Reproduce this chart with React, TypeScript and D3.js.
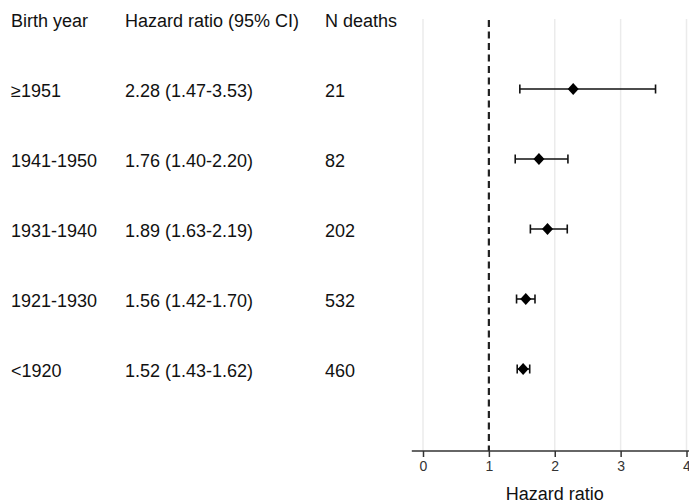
import React, { useEffect, useRef } from "react";
import * as d3 from "d3";

const birthYears = ["≥1951", "1941-1950", "1931-1940", "1921-1930", "<1920"];
const hazardRatios = [2.28, 1.76, 1.89, 1.56, 1.52];
const ciLower = [1.47, 1.4, 1.63, 1.42, 1.43];
const ciUpper = [3.53, 2.2, 2.19, 1.7, 1.62];
const nDeaths = [21, 82, 202, 532, 460];
const xTicks = [0, 1, 2, 3, 4];
const headers = ["Birth year", "Hazard ratio (95% CI)", "N deaths"];

const fmt = d3.format(".2f");

const ForestPlot: React.FC<{ width?: number; height?: number }> = ({
  width = 689,
  height = 504,
}) => {
  const ref = useRef<SVGSVGElement | null>(null);

  useEffect(() => {
    const svg = d3.select(ref.current);
    svg.selectAll("*").remove();
    svg.attr("width", width).attr("height", height);

    const font = "'Liberation Sans', Arial, sans-serif";
    const axisY = 451;
    const plotTop = 19;

    // Scales
    const x = d3.scaleLinear().domain([0, 4]).range([423, 686.5]);
    const y = d3.scalePoint<string>().domain(birthYears).range([89, 369]);

    const rows = birthYears.map((label, i) => ({
      label,
      hr: hazardRatios[i],
      lo: ciLower[i],
      hi: ciUpper[i],
      n: nDeaths[i],
    }));

    // Table columns
    const colX = [11, 125, 325];
    svg
      .append("g")
      .selectAll("text")
      .data(headers)
      .enter()
      .append("text")
      .attr("x", (_, i) => colX[i])
      .attr("y", 27)
      .style("font-family", font)
      .style("font-size", "18px")
      .attr("fill", "#111")
      .text((d) => d);

    const table = svg.append("g");
    const cells = (fn: (d: (typeof rows)[0]) => string, cx: number) =>
      table
        .append("g")
        .selectAll("text")
        .data(rows)
        .enter()
        .append("text")
        .attr("x", cx)
        .attr("y", (d) => (y(d.label) ?? 0) + 8)
        .style("font-family", font)
        .style("font-size", "18px")
        .attr("fill", "#111")
        .text(fn);

    cells((d) => d.label, colX[0]);
    cells((d) => `${fmt(d.hr)} (${fmt(d.lo)}-${fmt(d.hi)})`, colX[1]);
    cells((d) => String(d.n), colX[2]);

    // Gridlines
    svg
      .append("g")
      .selectAll("line")
      .data(xTicks.filter((t) => t !== 1))
      .enter()
      .append("line")
      .attr("x1", (d) => x(d))
      .attr("x2", (d) => x(d))
      .attr("y1", plotTop)
      .attr("y2", axisY)
      .attr("stroke", "#ebebeb")
      .attr("stroke-width", 1.5);

    // Reference line at HR = 1
    svg
      .append("line")
      .attr("x1", x(1))
      .attr("x2", x(1))
      .attr("y1", plotTop + 1)
      .attr("y2", axisY)
      .attr("stroke", "#222")
      .attr("stroke-width", 2.2)
      .attr("stroke-dasharray", "7,4.5");

    // X axis
    const axis = svg
      .append("g")
      .attr("transform", `translate(0,${axisY})`)
      .call(
        d3
          .axisBottom(x)
          .tickValues(xTicks)
          .tickFormat(d3.format("d"))
          .tickSize(6)
          .tickPadding(4),
      );
    axis.select(".domain").remove();
    axis
      .append("line")
      .attr("x1", x(-0.17))
      .attr("x2", width)
      .attr("stroke", "#333")
      .attr("stroke-width", 1.5);
    axis.selectAll(".tick line").attr("stroke", "#333").attr("stroke-width", 1.5);
    axis
      .selectAll(".tick text")
      .attr("fill", "#333")
      .style("font-family", font)
      .style("font-size", "14px");

    svg
      .append("text")
      .attr("x", x(2))
      .attr("y", 500)
      .attr("text-anchor", "middle")
      .style("font-family", font)
      .style("font-size", "18px")
      .attr("fill", "#111")
      .text("Hazard ratio");

    // Error bars
    const bars = svg.append("g").attr("stroke", "#111").attr("stroke-width", 1.6);
    bars
      .selectAll(".ci")
      .data(rows)
      .enter()
      .append("line")
      .attr("x1", (d) => x(d.lo))
      .attr("x2", (d) => x(d.hi))
      .attr("y1", (d) => y(d.label) ?? 0)
      .attr("y2", (d) => y(d.label) ?? 0);
    (["lo", "hi"] as const).forEach((k) => {
      bars
        .selectAll(`.cap-${k}`)
        .data(rows)
        .enter()
        .append("line")
        .attr("x1", (d) => x(d[k]))
        .attr("x2", (d) => x(d[k]))
        .attr("y1", (d) => (y(d.label) ?? 0) - 4.5)
        .attr("y2", (d) => (y(d.label) ?? 0) + 4.5);
    });

    // Point estimates
    svg
      .append("g")
      .selectAll("path")
      .data(rows)
      .enter()
      .append("path")
      .attr("transform", (d) => `translate(${x(d.hr)},${y(d.label)})`)
      .attr("d", "M0,-6L5.5,0L0,6L-5.5,0Z")
      .attr("fill", "#000");
  }, [width, height]);

  return (
    <svg
      ref={ref}
      style={{ position: "absolute", left: 0, top: 0, background: "#fff" }}
    ></svg>
  );
};

export default function App() {
  return <ForestPlot />;
}
